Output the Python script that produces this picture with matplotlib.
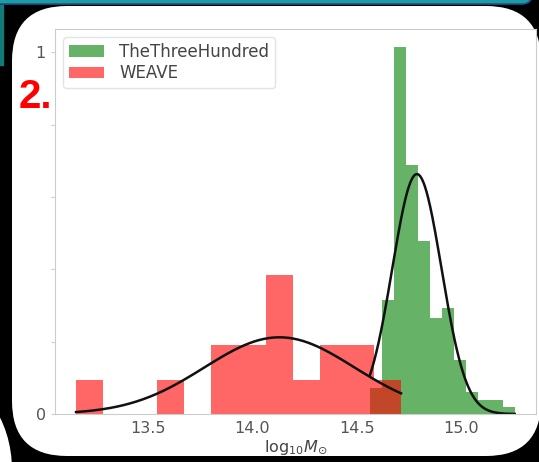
import numpy as np
import matplotlib.pyplot as plt
from matplotlib.patches import FancyBboxPatch, Rectangle, Ellipse

# histogram bins (log10 M) and normalised heights
weave_edges = [13.155, 13.285, 13.415, 13.544, 13.674, 13.804, 13.934,
               14.064, 14.194, 14.323, 14.453, 14.583, 14.713]
weave_heights = [0.094, 0, 0, 0.094, 0, 0.19, 0.19, 0.384, 0.094, 0.19, 0.19, 0.094]

t300_edges = [14.563, 14.621, 14.679, 14.737, 14.795, 14.853, 14.910,
              14.968, 15.026, 15.084, 15.142, 15.200, 15.258]
t300_heights = [0.072, 0.315, 1.013, 0.687, 0.478, 0.264, 0.293,
                0.15, 0.06, 0.039, 0.039, 0.02]

# gaussian fits: amplitude, mean, sigma
weave_fit = (0.212, 14.13, 0.36)
t300_fit = (0.663, 14.789, 0.118)

xticks = [13.5, 14.0, 14.5, 15.0]
yticks = [0, 0.2, 0.4, 0.6, 0.8, 1.0]
ytick_labels = ['0', '', '', '', '', '1']


def gauss(x, a, mu, s):
    return a * np.exp(-(x - mu) ** 2 / (2 * s ** 2))


fig = plt.figure(figsize=(5.39, 4.62), dpi=100, facecolor='black')

# slide panel behind the plot, drawn in pixel units
bg = fig.add_axes([0, 0, 1, 1], zorder=-1)
bg.set_xlim(0, 539)
bg.set_ylim(462, 0)
bg.axis('off')
bg.add_patch(Rectangle((0, 0), 539, 462, color='black'))
bg.add_patch(FancyBboxPatch((12, 6), 529, 450, boxstyle='round,pad=0,rounding_size=55',
                            facecolor='white', edgecolor='none'))
bg.add_patch(Ellipse((-60, 470), 144, 190, facecolor='white', edgecolor='none'))
bg.add_patch(FancyBboxPatch((-20, -20), 552, 24, boxstyle='round,pad=0,rounding_size=10',
                            facecolor='#1a9e9e', edgecolor='#1f4e9a', lw=1.2))
bg.add_patch(Rectangle((0, 5), 2.5, 60, color='#137a7a'))
bg.text(19, 97, '2.', color='#ff0000', fontsize=29, fontweight='bold',
        family='Liberation Sans', va='center', ha='left')

ax = fig.add_axes([55 / 539, 48 / 462, 481 / 539, 385 / 462])
ax.set_facecolor('white')

ax.hist(t300_edges[:-1], bins=t300_edges, weights=t300_heights,
        color='green', alpha=0.6, label='TheThreeHundred')
ax.hist(weave_edges[:-1], bins=weave_edges, weights=weave_heights,
        color='red', alpha=0.6, label='WEAVE')

x1 = np.linspace(t300_edges[0], t300_edges[-1], 200)
ax.plot(x1, gauss(x1, *t300_fit), color='#111111', lw=1.8)
x2 = np.linspace(weave_edges[0], weave_edges[-1], 200)
ax.plot(x2, gauss(x2, *weave_fit), color='#111111', lw=1.8)

ax.set_xlim(13.054, 15.36)
ax.set_ylim(0, 1.064)
ax.set_xticks(xticks)
ax.set_yticks(yticks)
ax.set_yticklabels(ytick_labels)
ax.set_xlabel(r'$\mathregular{log_{10}}M_{\odot}$', fontsize=11.5,
              color='#444444', labelpad=2)

for sp in ax.spines.values():
    sp.set_color('#cccccc')
ax.tick_params(axis='both', colors='#cccccc', labelcolor='#555555',
               labelsize=11.5, length=3)
ax.tick_params(axis='x', length=0, pad=5)

leg = ax.legend(loc='upper left', fontsize=12, labelspacing=0.2,
                handlelength=2.1, handletextpad=0.9, borderpad=0.35,
                edgecolor='#dddddd')
for t in leg.get_texts():
    t.set_color('#444444')

fig.savefig('out.png', dpi=100, facecolor=fig.get_facecolor())
